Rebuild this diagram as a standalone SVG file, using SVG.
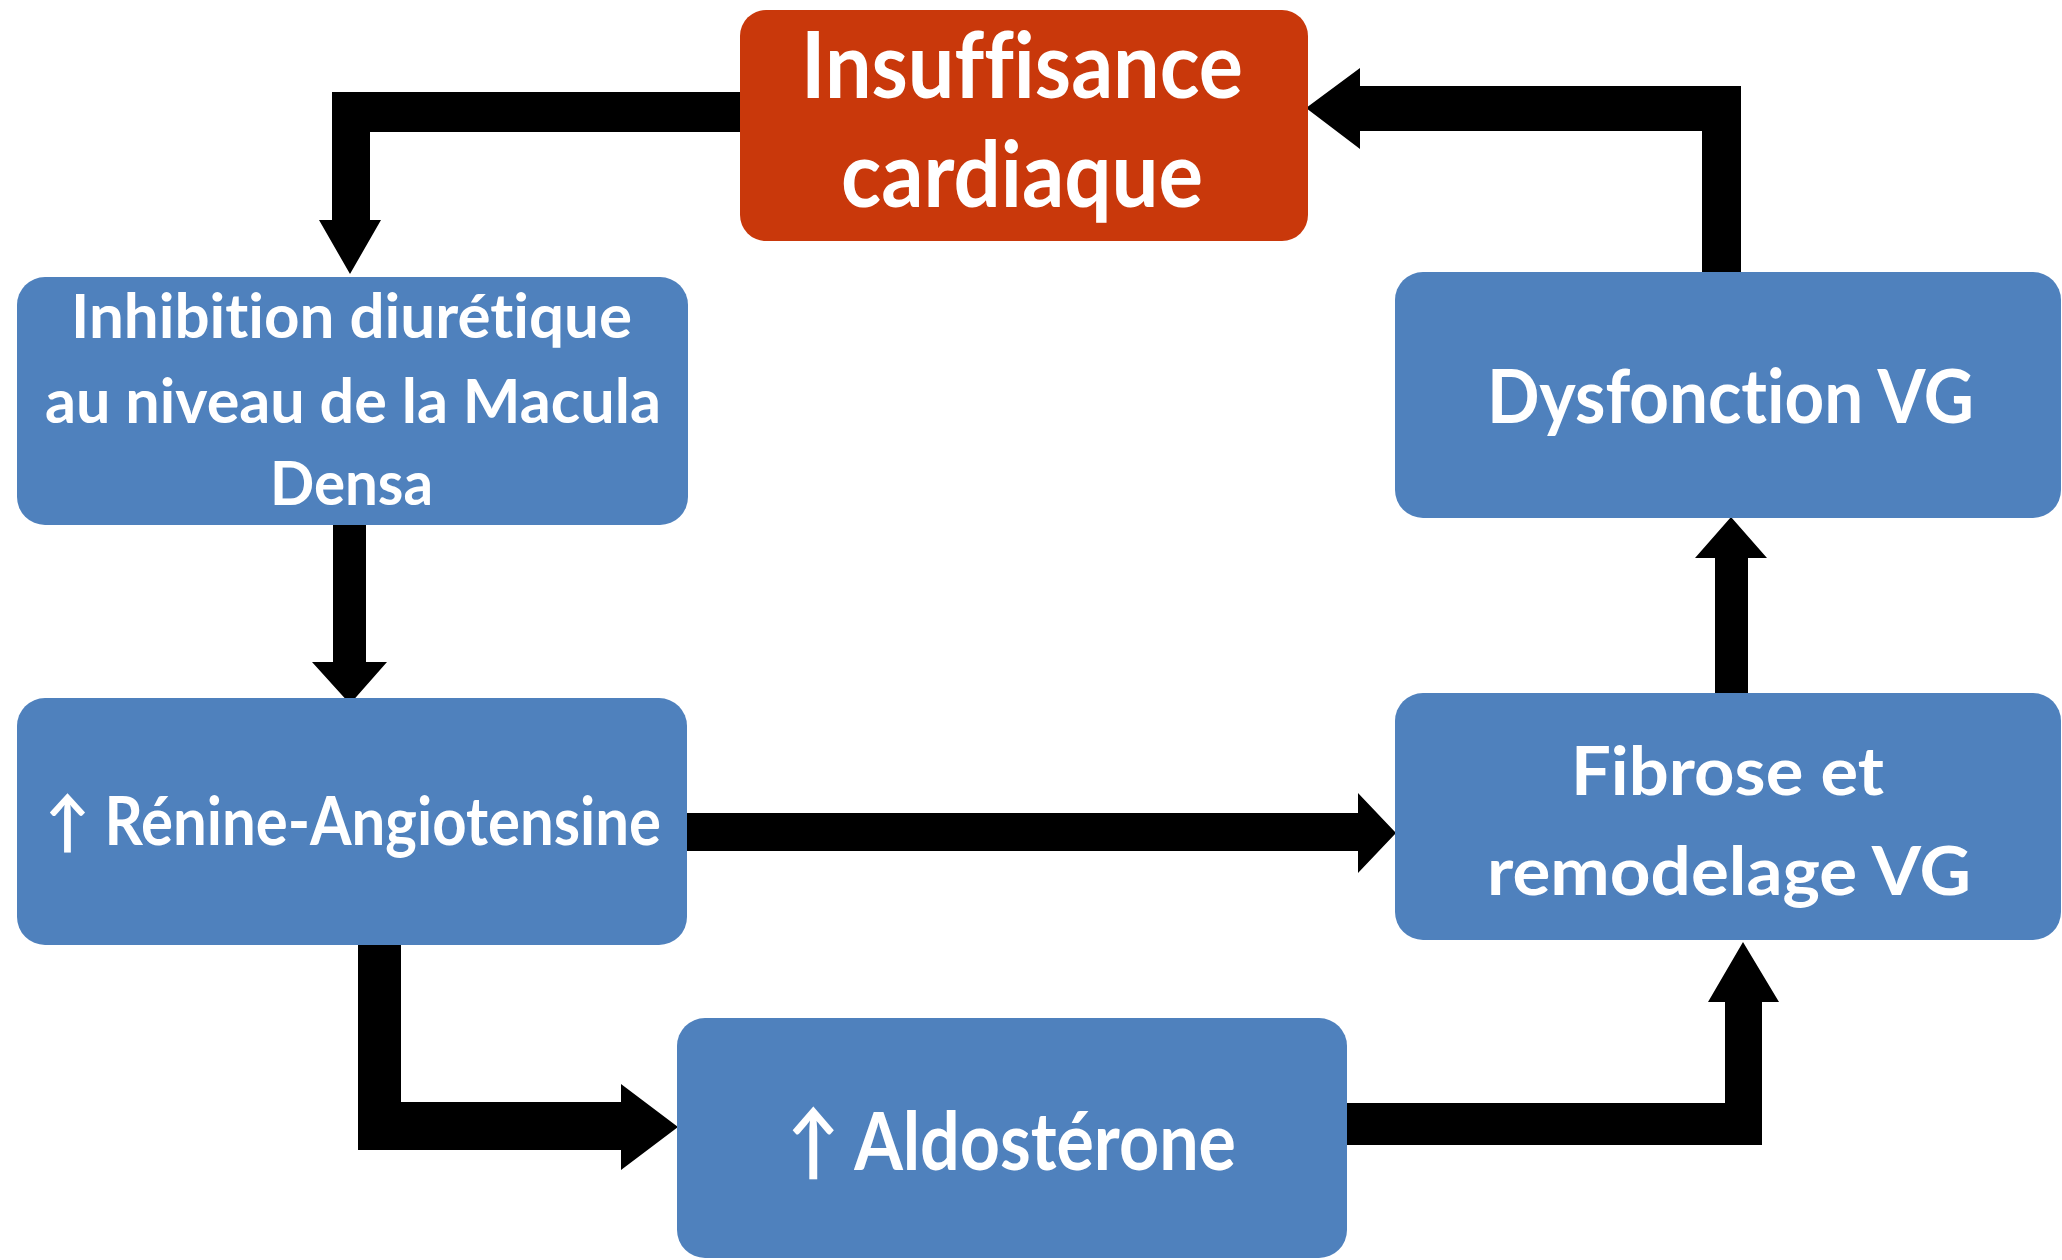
<svg xmlns="http://www.w3.org/2000/svg" width="2062" height="1260" viewBox="0 0 2062 1260">
<style>
.blue{fill:#4F81BD}
.red{fill:#C9380B}
.t{fill:#FFFFFF;font-family:Lato,"Open Sans","Liberation Sans",sans-serif;font-weight:bold;font-variant-ligatures:none;font-feature-settings:"liga" 0,"dlig" 0,"clig" 0}
.c{fill:#000000}
</style>
<rect width="2062" height="1260" fill="#FFFFFF"/>
<g id="connectors">
  <!-- Insuffisance -> Inhibition -->
  <polygon class="c" points="742,92 332,92 332,220 319,220 350,274 381,220 370,220 370,132 742,132"/>
  <!-- Inhibition -> Renine -->
  <polygon class="c" points="333,522 333,662 312,662 350,704 387,662 366,662 366,522"/>
  <!-- Renine -> Fibrose -->
  <polygon class="c" points="685,813 1358,813 1358,793 1396,833 1358,873 1358,851 685,851"/>
  <!-- Renine -> Aldosterone -->
  <polygon class="c" points="358,943 358,1150 621,1150 621,1170 678,1127 621,1084 621,1102 401,1102 401,943"/>
  <!-- Aldosterone -> Fibrose -->
  <polygon class="c" points="1343,1103 1725,1103 1725,1002 1708,1002 1743,942 1779,1002 1762,1002 1762,1145 1343,1145"/>
  <!-- Fibrose -> Dysfonction -->
  <polygon class="c" points="1715,695 1715,558 1695,558 1731,517 1767,558 1748,558 1748,695"/>
  <!-- Dysfonction -> Insuffisance -->
  <polygon class="c" points="1702,274 1702,131 1360,131 1360,149 1306,108 1360,68 1360,86 1741,86 1741,274"/>
</g>
<g id="insuffisance">
  <rect class="red" x="740" y="10" width="568" height="231" rx="26"/>
  <text class="t" x="801" y="98" font-size="91" textLength="442" lengthAdjust="spacingAndGlyphs">Insuffisance</text>
  <text class="t" x="841" y="207" font-size="91" textLength="362" lengthAdjust="spacingAndGlyphs">cardiaque</text>
</g>
<g id="inhibition">
  <rect class="blue" x="17" y="277" width="671" height="248" rx="28"/>
  <text class="t" x="71" y="338" font-size="61" textLength="561" lengthAdjust="spacingAndGlyphs">Inhibition diurétique</text>
  <text class="t" x="45" y="423" font-size="61" textLength="616" lengthAdjust="spacingAndGlyphs">au niveau de la Macula</text>
  <text class="t" x="270" y="505" font-size="61" textLength="163" lengthAdjust="spacingAndGlyphs">Densa</text>
</g>
<g id="renine">
  <rect class="blue" x="17" y="698" width="670" height="247" rx="28"/>
  <text class="t" x="45" y="845" font-size="66" textLength="616" lengthAdjust="spacingAndGlyphs">↑ Rénine-Angiotensine</text>
</g>
<g id="aldosterone">
  <rect class="blue" x="677" y="1018" width="670" height="240" rx="28"/>
  <text class="t" x="787" y="1170" font-size="81" textLength="449" lengthAdjust="spacingAndGlyphs">↑ Aldostérone</text>
</g>
<g id="fibrose">
  <rect class="blue" x="1395" y="693" width="666" height="247" rx="28"/>
  <text class="t" x="1571" y="795" font-size="66" textLength="313" lengthAdjust="spacingAndGlyphs">Fibrose et</text>
  <text class="t" x="1487" y="895" font-size="66" textLength="484" lengthAdjust="spacingAndGlyphs">remodelage VG</text>
</g>
<g id="dysfonction">
  <rect class="blue" x="1395" y="272" width="666" height="246" rx="28"/>
  <text class="t" x="1487" y="423" font-size="74" textLength="487" lengthAdjust="spacingAndGlyphs">Dysfonction VG</text>
</g>
</svg>
